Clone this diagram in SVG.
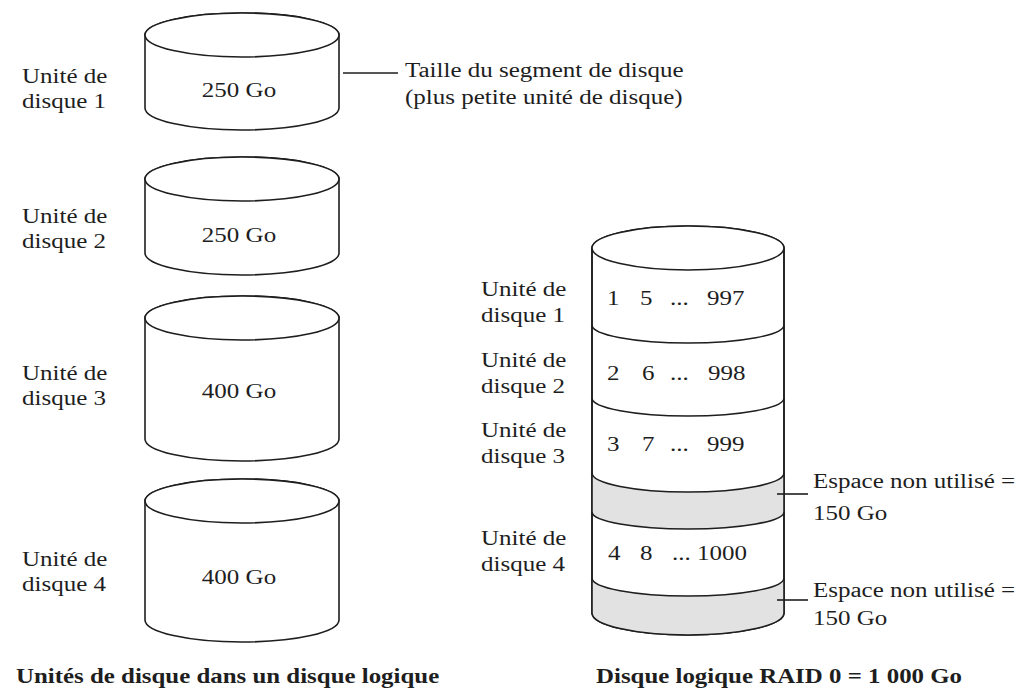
<svg xmlns="http://www.w3.org/2000/svg" width="1026" height="696" viewBox="0 0 1026 696">
<style>
.t{font-family:"Liberation Serif","Times New Roman",serif;font-size:20px;fill:#1e1e1e}
.b{font-family:"Liberation Serif","Times New Roman",serif;font-size:21px;font-weight:bold;fill:#1e1e1e}
.c{fill:#fff;stroke:#1e1e1e;stroke-width:1.6}
.l{fill:none;stroke:#1e1e1e;stroke-width:1.6}
.g{fill:#e2e2e2;stroke:none}
.m{text-anchor:middle}
</style>
<rect width="1026" height="696" fill="#fff"/>

<g id="disk1">
<path class="c" d="M145,35 V108 A97,22 0 0 0 339,108 V35 A97,22 0 0 0 145,35 Z"/>
<ellipse class="c" cx="242" cy="35" rx="97" ry="22"/>
<text class="t m" transform="translate(239,97) scale(1.25,1)">250 Go</text>
<text class="t" transform="translate(22,83) scale(1.25,1)">Unité de</text>
<text class="t" transform="translate(22,108) scale(1.25,1)">disque 1</text>
</g>

<g id="disk2">
<path class="c" d="M145,179 V253 A97,22 0 0 0 339,253 V179 A97,22 0 0 0 145,179 Z"/>
<ellipse class="c" cx="242" cy="179" rx="97" ry="22"/>
<text class="t m" transform="translate(239,242) scale(1.25,1)">250 Go</text>
<text class="t" transform="translate(22,223) scale(1.25,1)">Unité de</text>
<text class="t" transform="translate(22,248) scale(1.25,1)">disque 2</text>
</g>

<g id="disk3">
<path class="c" d="M145,318 V439 A97,22 0 0 0 339,439 V318 A97,22 0 0 0 145,318 Z"/>
<ellipse class="c" cx="242" cy="318" rx="97" ry="22"/>
<text class="t m" transform="translate(239,398) scale(1.25,1)">400 Go</text>
<text class="t" transform="translate(22,380) scale(1.25,1)">Unité de</text>
<text class="t" transform="translate(22,405) scale(1.25,1)">disque 3</text>
</g>

<g id="disk4">
<path class="c" d="M145,501 V620 A97,22 0 0 0 339,620 V501 A97,22 0 0 0 145,501 Z"/>
<ellipse class="c" cx="242" cy="501" rx="97" ry="22"/>
<text class="t m" transform="translate(239,584) scale(1.25,1)">400 Go</text>
<text class="t" transform="translate(22,566) scale(1.25,1)">Unité de</text>
<text class="t" transform="translate(22,591) scale(1.25,1)">disque 4</text>
</g>

<g id="segment-note">
<text class="t" transform="translate(405,77) scale(1.25,1)">Taille du segment de disque</text>
<text class="t" transform="translate(405,104) scale(1.25,1)">(plus petite unité de disque)</text>
</g>

<g id="raid0">
<path class="c" d="M592,248 V613 A96,22 0 0 0 784,613 V248 A96,22 0 0 0 592,248 Z"/>
<path class="g" d="M592,473 A96,19 0 0 0 784,473 V512 A96,17 0 0 1 592,512 Z"/>
<path class="g" d="M592,578 A96,18 0 0 0 784,578 V613 A96,22 0 0 1 592,613 Z"/>
<path class="l" d="M592,248 V613 A96,22 0 0 0 784,613 V248"/>
<ellipse class="c" cx="688" cy="248" rx="96" ry="22"/>
<path class="l" d="M592,325 A96,18 0 0 0 784,325"/>
<path class="l" d="M592,398 A96,18 0 0 0 784,398"/>
<path class="l" d="M592,473 A96,19 0 0 0 784,473"/>
<path class="l" d="M592,512 A96,17 0 0 0 784,512"/>
<path class="l" d="M592,578 A96,18 0 0 0 784,578"/>
<text class="t" transform="translate(0,305) scale(1.25,1)"><tspan x="485.6">1</tspan><tspan x="512">5</tspan><tspan x="536">...</tspan><tspan x="565.6">997</tspan></text>
<text class="t" transform="translate(0,380) scale(1.25,1)"><tspan x="485.6">2</tspan><tspan x="513.6">6</tspan><tspan x="536">...</tspan><tspan x="566.4">998</tspan></text>
<text class="t" transform="translate(0,451) scale(1.25,1)"><tspan x="485.6">3</tspan><tspan x="513.6">7</tspan><tspan x="536">...</tspan><tspan x="565.6">999</tspan></text>
<text class="t" transform="translate(0,560) scale(1.25,1)"><tspan x="486.4">4</tspan><tspan x="512">8</tspan><tspan x="537.6">...</tspan><tspan x="557.6">1000</tspan></text>
<text class="t" transform="translate(481,296) scale(1.25,1)">Unité de</text>
<text class="t" transform="translate(481,322) scale(1.25,1)">disque 1</text>
<text class="t" transform="translate(481,367) scale(1.25,1)">Unité de</text>
<text class="t" transform="translate(481,393) scale(1.25,1)">disque 2</text>
<text class="t" transform="translate(481,437) scale(1.25,1)">Unité de</text>
<text class="t" transform="translate(481,463) scale(1.25,1)">disque 3</text>
<text class="t" transform="translate(481,545) scale(1.25,1)">Unité de</text>
<text class="t" transform="translate(481,571) scale(1.25,1)">disque 4</text>
</g>

<g id="unused1">
<text class="t" transform="translate(813,488) scale(1.25,1)">Espace non utilisé =</text>
<text class="t" transform="translate(813,520) scale(1.25,1)">150 Go</text>
</g>
<g id="unused2">
<text class="t" transform="translate(813,597) scale(1.25,1)">Espace non utilisé =</text>
<text class="t" transform="translate(813,625) scale(1.25,1)">150 Go</text>
</g>

<g id="connectors">
<line class="l" x1="343" y1="73" x2="398" y2="73"/>
<line class="l" x1="777" y1="494" x2="808" y2="494"/>
<line class="l" x1="777" y1="600" x2="808" y2="600"/>
</g>

<g id="titles">
<text class="b" transform="translate(16,683) scale(1.186,1)">Unités de disque dans un disque logique</text>
<text class="b" transform="translate(596,683) scale(1.186,1)">Disque logique RAID 0 = 1 000 Go</text>
</g>
</svg>
